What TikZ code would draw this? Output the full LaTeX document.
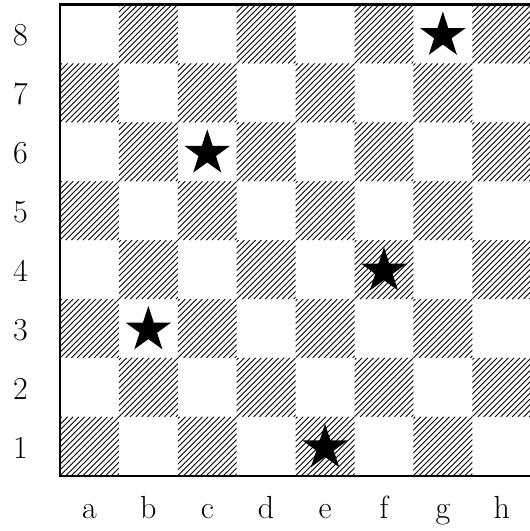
\documentclass[tikz,border=0pt]{standalone}
\usetikzlibrary{shapes.geometric}
\tikzset{
  hatch/.style={line width=0.9pt, black},
  frame/.style={line width=2.4pt, black},
  starnode/.style={star, star points=5, star point ratio=2.618, minimum size=48pt, inner sep=0pt, fill=black, draw=none},
  lab/.style={font=\fontsize{32}{32}\selectfont, inner sep=0pt, anchor=base}
}
\begin{document}
\begin{tikzpicture}[x=1pt,y=-1pt]
\useasboundingbox (0,0) rectangle (530,531);
\def\s{58.9}
\def\xo{60}
\def\yo{4.5}
% hatched squares
\foreach \c in {0,...,7} {
  \foreach \r in {0,...,7} {
    \pgfmathtruncatemacro\p{\c+\r}
    \ifodd\p
      \begin{scope}
        \clip ({\xo+\c*\s},{\yo+\r*\s}) rectangle ({\xo+(\c+1)*\s},{\yo+(\r+1)*\s});
        \foreach \k in {-11,...,11} {
          \draw[hatch] ({\xo+\c*\s+\k*5.7},{\yo+(\r+1)*\s}) -- ++(\s,-\s);
        }
      \end{scope}
    \fi
  }
}
% frame
\coordinate (tl) at (\xo,\yo);
\coordinate (tr) at (532,\yo);
\coordinate (bl) at (\xo,{\yo+8*\s});
\coordinate (br) at (532,{\yo+8*\s});
\draw[frame] (tr) -- (tl) -- (bl) -- (br);
% rank labels
\foreach \r/\t in {0/8,1/7,2/6,3/5,4/4,5/3,6/2,7/1} {
  \node[lab] (rank\t) at (20.5,{\yo+(\r+0.5)*\s+12}) {\t};
}
% file labels
\foreach \c/\t in {0/a,1/b,2/c,3/d,4/e,5/f,6/g,7/h} {
  \node[lab] (file\t) at ({\xo+(\c+0.5)*\s},518) {\t};
}
% stars
\node[starnode] (sg8) at ({\xo+6.5*\s},{\yo+0.5*\s+1.5}) {};
\node[starnode] (sc6) at ({\xo+2.5*\s},{\yo+2.5*\s+1.5}) {};
\node[starnode] (sf4) at ({\xo+5.5*\s},{\yo+4.5*\s+1.5}) {};
\node[starnode] (sb3) at ({\xo+1.5*\s},{\yo+5.5*\s+1.5}) {};
\node[starnode] (se1) at ({\xo+4.5*\s},{\yo+7.5*\s+1.5}) {};
\end{tikzpicture}
\end{document}
